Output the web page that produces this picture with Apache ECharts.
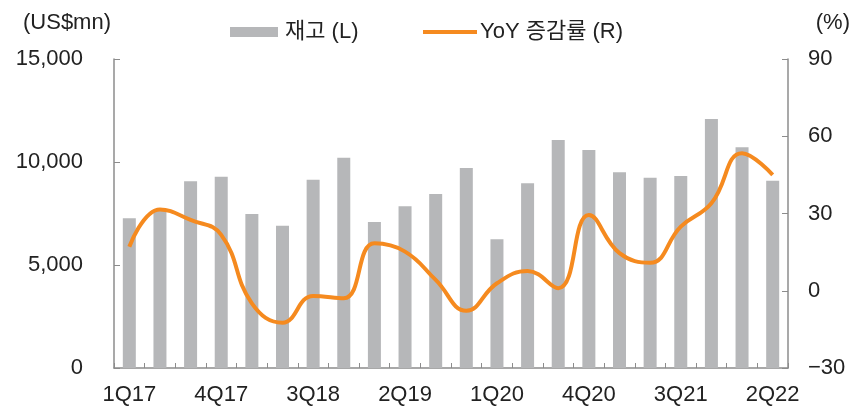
<!DOCTYPE html>
<html>
	<head>
		<meta charset="utf-8" />
		<title>재고 및 YoY 증감률</title>
		<style>
			html, body { margin: 0; padding: 0; background: #fff; }
			#chart { width: 852px; height: 408px; }
		</style>
	</head>
	<body>
		<div id="chart"></div>
		<script src="https://cdn.jsdelivr.net/npm/echarts@6/dist/echarts.min.js"></script>
		<script>
			// 분기
			var quarters = ['1Q17','2Q17','3Q17','4Q17','1Q18','2Q18','3Q18','4Q18','1Q19','2Q19','3Q19','4Q19',
				'1Q20','2Q20','3Q20','4Q20','1Q21','2Q21','3Q21','4Q21','1Q22','2Q22'];
			// 재고 (US$mn)
			var inventory = [7270, 7700, 9060, 9290, 7480, 6910, 9140, 10210, 7090, 7850, 8450, 9710,
				6250, 8970, 11070, 10580, 9500, 9240, 9320, 12090, 10710, 9090];
			// YoY 증감률 (%)
			var yoy = [17.1, 31.6, 27.5, 21.7, -4.9, -12.4, -2.0, -2.9, 18.4, 15.2, 4.2, -7.8,
				2.9, 7.7, 1.0, 29.4, 14.6, 10.9, 24.9, 34.0, 53.4, 45.0];
			var leftTicks = [0, 15000, 5000];
			var rightTicks = [-30, 90, 30];

			var font = '"Liberation Sans", "Noto Sans CJK KR", sans-serif';
			var axisColor = '#8c8c8c';
			var textColor = '#222';

			var chart = echarts.init(document.getElementById('chart'));
			var option = {
				animation: false,
				textStyle: { fontFamily: font },
				grid: { left: 114, right: 64, top: 59, bottom: 40 },
				legend: [{
					left: 225, top: 16,
					icon: 'rect', itemWidth: 48, itemHeight: 10, itemGap: 7,
					data: ['재고 (L)'],
					textStyle: { fontSize: 22, color: textColor, fontFamily: font, padding: [0, 0, 0, 2] }
				}, {
					left: 418, top: 16,
					icon: 'rect', itemWidth: 54, itemHeight: 4,
					data: ['YoY 증감률 (R)'],
					textStyle: { fontSize: 22, color: textColor, fontFamily: font, padding: [0, 0, 0, -2] }
				}],
				graphic: [{
					type: 'text', left: 23, top: 12,
					style: { text: '(US$mn)', fontSize: 22, fill: textColor, fontFamily: font }
				}, {
					type: 'text', right: 2, top: 12,
					style: { text: '(%)', fontSize: 22, fill: textColor, fontFamily: font }
				}],
				xAxis: {
					type: 'category',
					data: quarters,
					axisLine: { lineStyle: { color: axisColor, width: 1.5 } },
					axisTick: { show: true, inside: true, length: 5, interval: 0, lineStyle: { color: axisColor } },
					axisLabel: { interval: 2, fontSize: 22, color: textColor, margin: 16 }
				},
				yAxis: [{
					type: 'value',
					min: leftTicks[0], max: leftTicks[1], interval: leftTicks[2],
					axisLine: { show: true, lineStyle: { color: axisColor, width: 1.5 } },
					axisTick: { show: true, inside: true, length: 6, lineStyle: { color: axisColor } },
					splitLine: { show: false },
					axisLabel: { fontSize: 22, color: textColor, margin: 31,
						formatter: function (v) { return v.toLocaleString('en-US'); } }
				}, {
					type: 'value',
					min: rightTicks[0], max: rightTicks[1], interval: rightTicks[2],
					axisLine: { show: true, lineStyle: { color: axisColor, width: 1.5 } },
					axisTick: { show: true, inside: true, length: 6, lineStyle: { color: axisColor } },
					splitLine: { show: false },
					axisLabel: { fontSize: 22, color: textColor, margin: 20,
						formatter: function (v) { return v < 0 ? '\u2212' + Math.abs(v) : v; } }
				}],
				series: [{
					name: '재고 (L)',
					type: 'bar',
					yAxisIndex: 0,
					data: inventory,
					barWidth: 13,
					itemStyle: { color: '#b6b7b9' }
				}, {
					name: 'YoY 증감률 (R)',
					type: 'line',
					yAxisIndex: 1,
					data: yoy,
					smooth: 0.45,
					showSymbol: false,
					symbol: 'none',
					lineStyle: { color: '#f58a1f', width: 4 },
					itemStyle: { color: '#f58a1f' }
				}]
			};
			chart.setOption(option);
		</script>
	</body>
</html>
